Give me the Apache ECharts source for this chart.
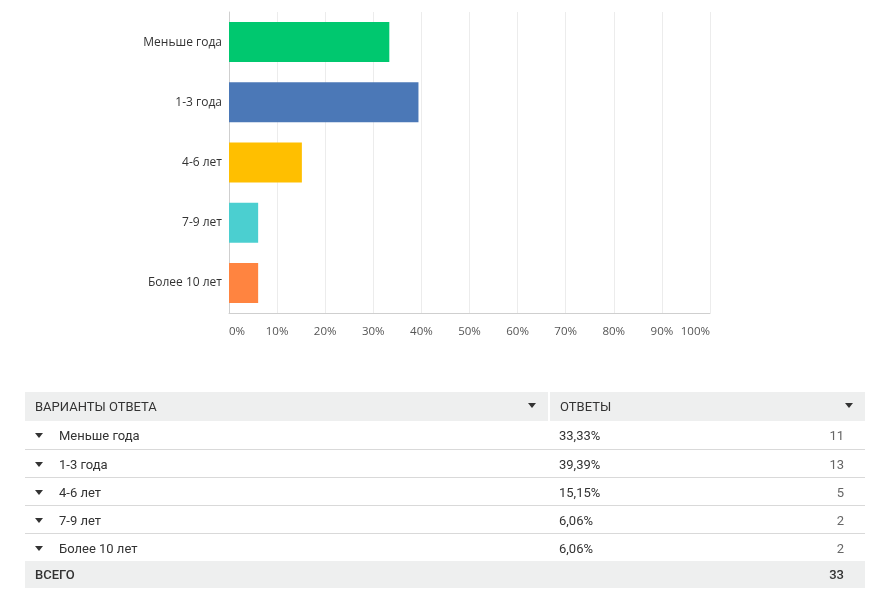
<!DOCTYPE html>
<html>
<head>
<meta charset="utf-8">
<script src="https://cdn.jsdelivr.net/npm/echarts@6/dist/echarts.min.js"></script>
<style>
  html, body { margin: 0; padding: 0; background: #fff; }
  #wrap { position: relative; width: 888px; height: 616px; overflow: hidden; }
  #chart { position: absolute; left: 0; top: 0; width: 888px; height: 616px; }
  #tbl { position: absolute; left: 25px; top: 392px; width: 840px; border-collapse: collapse;
         font-family: Roboto, "Liberation Sans", sans-serif; font-size: 13px; color: #333; }
  #tbl td { padding: 0; vertical-align: middle; box-sizing: border-box; }
  #tbl tr.head td { background: #eeefef; text-transform: uppercase; color: #333; height: 29px; }
  #tbl tr.head td.c1 { border-right: 2px solid #fff; padding-left: 10px; position: relative; }
  #tbl tr.head td.c2 { padding-left: 10px; position: relative; }
  #tbl tr.row td { border-bottom: 1px solid #d9d9d9; height: 28px; padding-top: 2px; }
  #tbl tr.row.last td { border-bottom: none; }
  #tbl tr.total td { background: #eeefef; height: 27px; font-weight: 500; }
  .tri { display: inline-block; width: 0; height: 0; border-left: 4.5px solid transparent;
         border-right: 4.5px solid transparent; border-top: 5px solid #333; vertical-align: middle; }
  .htri { position: absolute; right: 12px; top: 11px; }
  .rtri { margin-left: 10px; margin-right: 16px; position: relative; top: -1px; }
  td.pct { padding-left: 10px !important; }
  td.cnt { text-align: right; padding-right: 21px !important; color: #666; }
  tr.total td.cnt { color: #333; }
</style>
</head>
<body>
<div id="wrap">
  <div id="chart"></div>
  <table id="tbl"></table>
</div>
<script>
const categories = ["Меньше года", "1-3 года", "4-6 лет", "7-9 лет", "Более 10 лет"];
const percentValues = [33.33, 39.39, 15.15, 6.06, 6.06];
const percentLabels = ["33,33%", "39,39%", "15,15%", "6,06%", "6,06%"];
const counts = [11, 13, 5, 2, 2];
const totalCount = 33;
const barColors = ["#00c86f", "#4b78b7", "#ffbf00", "#4bcfd0", "#ff8440"];
const headers = ["Варианты ответа", "Ответы"];
const totalLabel = "Всего";

const chart = echarts.init(document.getElementById('chart'), null, { renderer: 'canvas' });
chart.setOption({
  animation: false,
  grid: { left: 229, right: 178, top: 12, bottom: 303, containLabel: false },
  xAxis: {
    type: 'value', min: 0, max: 100, interval: 10,
    axisLine: { show: true, lineStyle: { color: '#cfcfcf', width: 1 } },
    axisTick: { show: false },
    splitLine: { show: true, lineStyle: { color: '#ececec', width: 1 } },
    axisLabel: {
      formatter: '{value}%', color: '#555', fontSize: 11.5, margin: 13,
      fontFamily: '"Open Sans", sans-serif',
      alignMinLabel: 'left', alignMaxLabel: 'right'
    }
  },
  yAxis: {
    type: 'category', data: categories, inverse: true,
    axisLine: { show: true, lineStyle: { color: '#cfcfcf', width: 1 } },
    axisTick: { show: false },
    axisLabel: { color: '#333', fontSize: 12, margin: 7, fontFamily: '"Open Sans", sans-serif' }
  },
  series: [{
    type: 'bar', barWidth: 40,
    data: percentValues.map((v, i) => ({ value: v, itemStyle: { color: barColors[i] } })),
    itemStyle: { borderRadius: 0 }
  }]
});

// table
const tbl = document.getElementById('tbl');
let html = '<tr class="head"><td class="c1" style="width:524px">' + headers[0] +
  '<span class="tri htri"></span></td><td class="c2" colspan="2">' + headers[1] +
  '<span class="tri htri"></span></td></tr>';
categories.forEach((c, i) => {
  html += '<tr class="row' + (i === categories.length - 1 ? ' last' : '') + '"><td><span class="tri rtri"></span>' + c +
    '</td><td class="pct">' + percentLabels[i] + '</td><td class="cnt">' + counts[i] + '</td></tr>';
});
html += '<tr class="total"><td style="padding-left:10px">' + totalLabel.toUpperCase() +
  '</td><td></td><td class="cnt">' + totalCount + '</td></tr>';
tbl.innerHTML = html;
</script>
</body>
</html>
